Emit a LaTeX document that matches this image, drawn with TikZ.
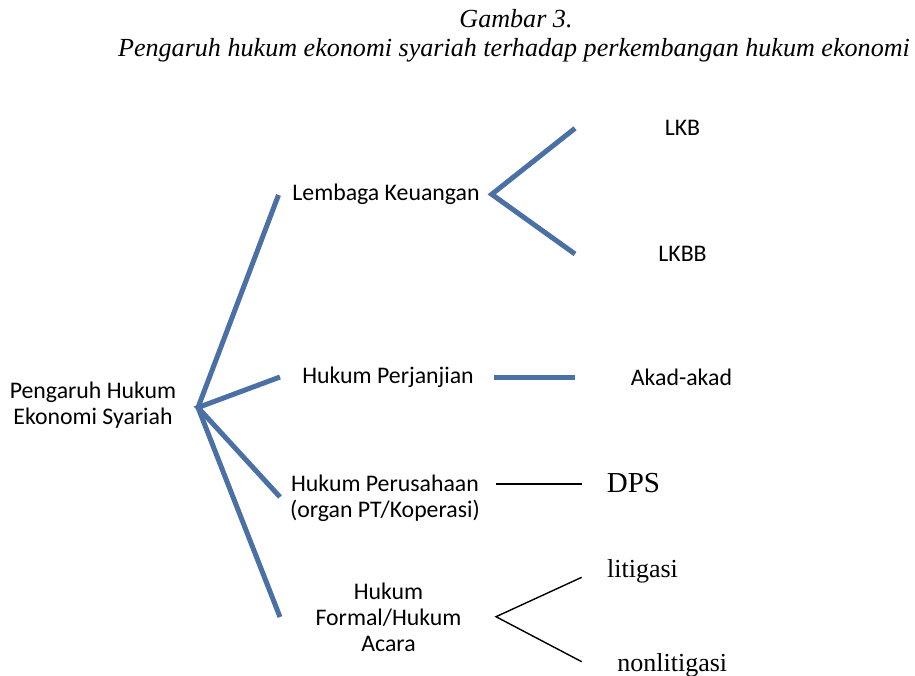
\documentclass[tikz,border=0pt]{standalone}
\usepackage{fontspec}
\setmainfont{Carlito}
\newfontfamily\timesfont{Liberation Serif}
\definecolor{branchblue}{RGB}{74,112,166}
\tikzset{
  lbl/.style={font=\fontsize{23.8}{26}\selectfont, inner sep=0pt, align=center},
  tms/.style={font=\timesfont\fontsize{26}{30}\selectfont, inner sep=0pt},
  ttl/.style={font=\timesfont\itshape\fontsize{26.1}{30}\selectfont, inner sep=0pt},
  bluelink/.style={draw=branchblue, line width=5pt, line join=miter},
  blacklink/.style={draw=black, line width=1.4pt},
}
\begin{document}
\begin{tikzpicture}[x=1pt,y=-1pt]
\path[use as bounding box] (0,0) rectangle (915,675);
% title
\node[ttl, anchor=base] (t1) at (516,27) {Gambar 3.};
\node[ttl, anchor=base] (t2) at (514,56) {Pengaruh hukum ekonomi syariah terhadap perkembangan hukum ekonomi};
% text nodes
\node[lbl] (root) at (93,405) {Pengaruh Hukum\\Ekonomi Syariah};
\node[lbl] (lk) at (386,194) {Lembaga Keuangan};
\node[lbl] (hp) at (388,377) {Hukum Perjanjian};
\node[lbl] (hps) at (385,498) {Hukum Perusahaan\\(organ PT/Koperasi)};
\node[lbl] (hf) at (388.5,617) {Hukum\\Formal/Hukum\\Acara};
\node[lbl] (lkb) at (682.5,128) {LKB};
\node[lbl] (lkbb) at (682.5,254) {LKBB};
\node[lbl] (akad) at (681.5,377) {Akad-akad};
\node[tms, font=\timesfont\fontsize{29}{32}\selectfont] (dps) at (633.5,483) {DPS};
\node[tms] (lit) at (642.5,571) {litigasi};
\node[tms] (nonlit) at (672.3,665) {nonlitigasi};
% connector coordinates
\coordinate (hub) at (198,407.5);
\coordinate (e1) at (278.5,195);
\coordinate (e2) at (280,377);
\coordinate (e3) at (280,497);
\coordinate (e4) at (280,617);
\coordinate (v1) at (491.7,194.3);
\coordinate (a1) at (575,128.3);
\coordinate (b1) at (575,254);
\coordinate (p1) at (494,377);
\coordinate (p2) at (575,377);
\coordinate (d1) at (496,484);
\coordinate (d2) at (582,484);
\coordinate (v2) at (496,616.7);
\coordinate (a2) at (581.7,577.3);
\coordinate (b2) at (581.7,661.7);
% connectors
\draw[bluelink] (e1) -- (hub) -- (e4);
\draw[bluelink] (e2) -- (hub) -- (e3);
\draw[bluelink] (a1) -- (v1) -- (b1);
\draw[bluelink] (p1) -- (p2);
\draw[blacklink] (d1) -- (d2);
\draw[blacklink] (a2) -- (v2) -- (b2);
\end{tikzpicture}
\end{document}
